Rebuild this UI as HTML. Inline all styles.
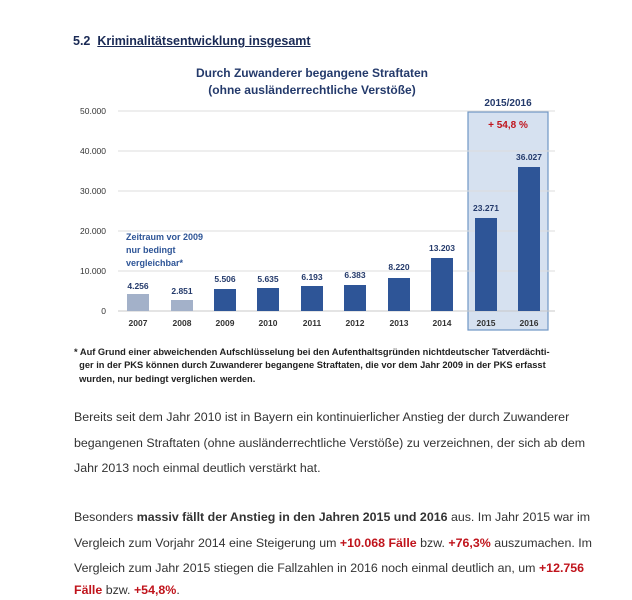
<!DOCTYPE html>
<html><head><meta charset="utf-8"><style>
body{margin:0;width:632px;height:600px;background:#fff;position:relative;overflow:hidden;font-family:"Liberation Sans",sans-serif;}
.a{position:absolute;white-space:nowrap}
.p{position:absolute;left:74px;font-size:12.4px;color:#333;white-space:nowrap}
.r{color:#c0141c;font-weight:bold}
</style></head><body>
<div class="a" style="left:73px;top:34px;font-size:12.5px;font-weight:bold;color:#1a2a55">5.2&nbsp;&nbsp;<span style="text-decoration:underline">Kriminalitätsentwicklung insgesamt</span></div>
<svg class="a" style="left:0;top:0" width="632" height="340" font-family="Liberation Sans, sans-serif" font-weight="bold">
<text x="312" y="77" text-anchor="middle" font-size="12" fill="#243a6b">Durch Zuwanderer begangene Straftaten</text>
<text x="312" y="94" text-anchor="middle" font-size="12" fill="#243a6b">(ohne ausländerrechtliche Verstöße)</text>
<rect x="468" y="112" width="80" height="218" fill="#d6e1f0" stroke="#6f96c5" stroke-width="1.2"/>
<text x="508" y="106" text-anchor="middle" font-size="10" fill="#243a6b">2015/2016</text>
<text x="508" y="128" text-anchor="middle" font-size="10" fill="#c0141c">+ 54,8 %</text>
<g stroke="#dcdcdc" stroke-width="1">
<line x1="118" x2="555" y1="111" y2="111"/><line x1="118" x2="555" y1="151" y2="151"/><line x1="118" x2="555" y1="191" y2="191"/><line x1="118" x2="555" y1="231" y2="231"/><line x1="118" x2="555" y1="271" y2="271"/><line x1="118" x2="555" y1="311" y2="311" stroke="#c8c8c8"/>
</g>
<g font-size="8.5" fill="#333" text-anchor="end" font-weight="normal">
<text x="106" y="114">50.000</text><text x="106" y="154">40.000</text><text x="106" y="194">30.000</text><text x="106" y="234">20.000</text><text x="106" y="274">10.000</text><text x="106" y="314">0</text>
</g>
<g fill="#a3b1c9"><rect x="127" y="294" width="22" height="17"/><rect x="171" y="300" width="22" height="11"/></g>
<g fill="#2e5597">
<rect x="214" y="289" width="22" height="22"/><rect x="257" y="288" width="22" height="23"/><rect x="301" y="286" width="22" height="25"/><rect x="344" y="285" width="22" height="26"/><rect x="388" y="278" width="22" height="33"/><rect x="431" y="258" width="22" height="53"/><rect x="475" y="218" width="22" height="93"/><rect x="518" y="167" width="22" height="144"/>
</g>
<g font-size="8.5" fill="#243a6b" text-anchor="middle">
<text x="138" y="289">4.256</text><text x="182" y="294">2.851</text><text x="225" y="282">5.506</text><text x="268" y="282">5.635</text><text x="312" y="280">6.193</text><text x="355" y="278">6.383</text><text x="399" y="270">8.220</text><text x="442" y="251">13.203</text><text x="486" y="211">23.271</text><text x="529" y="160">36.027</text>
</g>
<g font-size="8.5" fill="#333" text-anchor="middle">
<text x="138" y="326">2007</text><text x="182" y="326">2008</text><text x="225" y="326">2009</text><text x="268" y="326">2010</text><text x="312" y="326">2011</text><text x="355" y="326">2012</text><text x="399" y="326">2013</text><text x="442" y="326">2014</text><text x="486" y="326">2015</text><text x="529" y="326">2016</text>
</g>
<g font-size="9" fill="#2e5597"><text x="126" y="240">Zeitraum vor 2009</text><text x="126" y="253">nur bedingt</text><text x="126" y="266">vergleichbar*</text></g>
</svg>
<div class="a" style="left:74px;top:346px;font-size:9.3px;font-weight:bold;color:#222;line-height:13.3px">* Auf Grund einer abweichenden Aufschlüsselung bei den Aufenthaltsgründen nichtdeutscher Tatverdächti-<br>&nbsp;&nbsp;ger in der PKS können durch Zuwanderer begangene Straftaten, die vor dem Jahr 2009 in der PKS erfasst<br>&nbsp;&nbsp;wurden, nur bedingt verglichen werden.</div>
<div class="p" style="top:410px">Bereits seit dem Jahr 2010 ist in Bayern ein kontinuierlicher Anstieg der durch Zuwanderer</div>
<div class="p" style="top:436px">begangenen Straftaten (ohne ausländerrechtliche Verstöße) zu verzeichnen, der sich ab dem</div>
<div class="p" style="top:461px">Jahr 2013 noch einmal deutlich verstärkt hat.</div>
<div class="p" style="top:510px">Besonders <b>massiv fällt der Anstieg in den Jahren 2015 und 2016</b> aus. Im Jahr 2015 war im</div>
<div class="p" style="top:536px">Vergleich zum Vorjahr 2014 eine Steigerung um <span class="r">+10.068 Fälle</span> bzw. <span class="r">+76,3%</span> auszumachen. Im</div>
<div class="p" style="top:561px">Vergleich zum Jahr 2015 stiegen die Fallzahlen in 2016 noch einmal deutlich an, um <span class="r">+12.756</span></div>
<div class="p" style="top:583px"><span class="r">Fälle</span> bzw. <span class="r">+54,8%</span>.</div>
</body></html>
